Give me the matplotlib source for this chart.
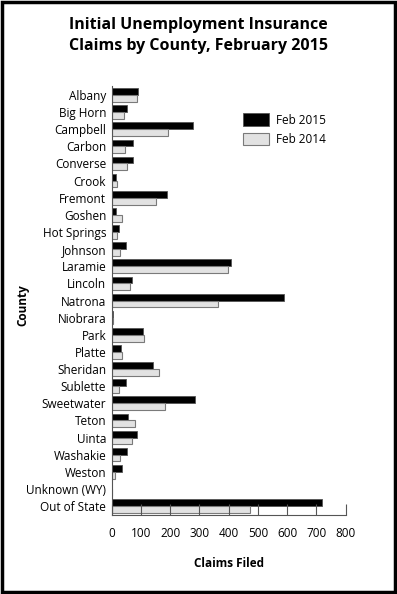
import numpy as np
import matplotlib
matplotlib.use("Agg")
import matplotlib.pyplot as plt
from matplotlib.patches import Rectangle

plt.rcParams['font.family'] = ['Open Sans', 'DejaVu Sans']

counties = ["Albany", "Big Horn", "Campbell", "Carbon", "Converse", "Crook",
            "Fremont", "Goshen", "Hot Springs", "Johnson", "Laramie", "Lincoln",
            "Natrona", "Niobrara", "Park", "Platte", "Sheridan", "Sublette",
            "Sweetwater", "Teton", "Uinta", "Washakie", "Weston",
            "Unknown (WY)", "Out of State"]
feb_2015 = [91, 53, 279, 74, 74, 15, 188, 15, 26, 49, 408, 68, 590, 3, 108,
            31, 141, 49, 284, 57, 85, 53, 36, 2, 718]
feb_2014 = [88, 43, 191, 44, 51, 19, 153, 35, 17, 29, 398, 63, 362, 5, 110,
            36, 163, 26, 181, 80, 70, 29, 11, 0, 472]
xticks = [0, 100, 200, 300, 400, 500, 600, 700, 800]

fig = plt.figure(figsize=(3.97, 5.94), dpi=100)
ax = fig.add_axes([0.2814, 0.1337, 0.5894, 0.7208])

y = np.arange(len(counties))
h = 0.4
ax.barh(y - h / 2, feb_2015, height=h, color="black", edgecolor="#555555",
        linewidth=0.6, label="Feb 2015")
ax.barh(y + h / 2, feb_2014, height=h, color="#e2e2e2", edgecolor="#7a7a7a",
        linewidth=0.8, label="Feb 2014")

ax.set_ylim(len(counties) - 0.5, -0.5)
ax.set_xlim(0, 800)
ax.set_yticks(y)
ax.set_yticklabels(counties, fontsize=8.5)
ax.set_xticks(xticks)
ax.set_xticklabels([str(t) for t in xticks], fontsize=8.5)
ax.tick_params(axis='y', length=0, pad=4)
ax.tick_params(axis='x', direction='in', length=8, color="#555555", pad=9)

for s in ["top", "right"]:
    ax.spines[s].set_visible(False)
ax.spines["left"].set_color("#555555")
ax.spines["bottom"].set_color("#555555")

ax.set_xlabel("Claims Filed", fontsize=8.5, fontweight="bold", labelpad=12)
fig.text(0.058, 0.487, "County", rotation=90, fontsize=8.5, fontweight="bold",
         ha="center", va="center")

fig.suptitle("Initial Unemployment Insurance\nClaims by County, February 2015",
             x=0.5, y=0.972, fontsize=11.5, fontweight="bold", linespacing=1.45)

ax.legend(loc="upper left", bbox_to_anchor=(0.515, 0.962), frameon=False,
          fontsize=8.5, handlelength=2.2, handleheight=1.3, labelspacing=0.5,
          handletextpad=0.6)

fig.patches.append(Rectangle((0.004, 0.003), 0.991, 0.994, transform=fig.transFigure,
                             fill=False, edgecolor="black", linewidth=2.5))

fig.savefig("out.png", dpi=100)
